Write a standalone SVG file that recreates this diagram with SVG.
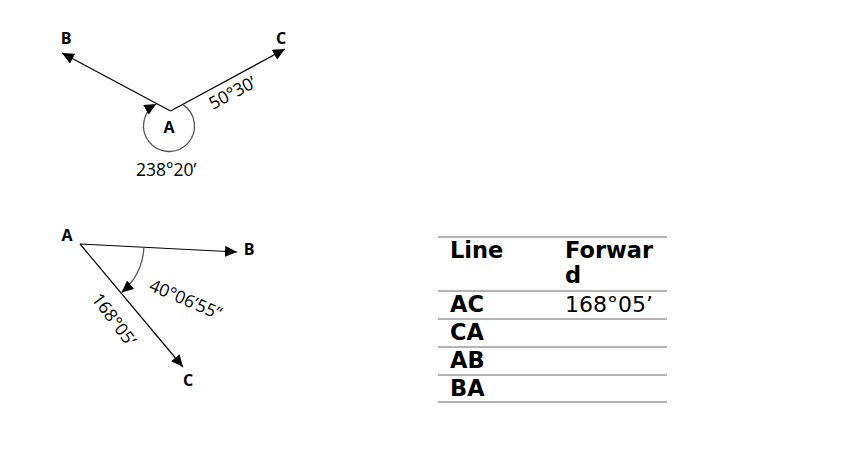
<svg xmlns="http://www.w3.org/2000/svg" width="843" height="456" viewBox="0 0 843 456">
<style>
.ln{stroke:#000;stroke-width:1.2;fill:none}
.arc{stroke:#555;stroke-width:1.3;fill:none}
.lbl{font-family:"Open Sans","Noto Sans",sans-serif;font-weight:bold;font-size:16px;fill:#000;text-anchor:middle}
.ang{font-family:"Open Sans","Noto Sans",sans-serif;font-size:17.5px;fill:#000}
.th{font-family:"DejaVu Sans",sans-serif;font-weight:bold;font-size:22.5px;fill:#000}
.td{font-family:"DejaVu Sans",sans-serif;font-size:22px;fill:#000}
.rule{stroke:#9a9a9a;stroke-width:1.5}
</style>
<defs>
<marker id="ah" markerUnits="userSpaceOnUse" markerWidth="13" markerHeight="11" refX="12" refY="5.5" orient="auto">
<path d="M0,0 L12,5.5 L0,11 Z" fill="#000"/>
</marker>
</defs>
<rect width="843" height="456" fill="#fff"/>
<g id="connectors">
<line class="ln" x1="170.5" y1="111" x2="62" y2="53" marker-end="url(#ah)"/>
<line class="ln" x1="170.5" y1="111" x2="285" y2="49" marker-end="url(#ah)"/>
<path class="arc" d="M183.3,104.9 A25.5,25.5 0 1 1 156.3,103.9" marker-end="url(#ah)"/>
<line class="ln" x1="80" y1="244" x2="237" y2="252" marker-end="url(#ah)"/>
<line class="ln" x1="80" y1="244" x2="183" y2="367" marker-end="url(#ah)"/>
<path class="arc" d="M143.9,247.3 A64,64 0 0 1 121.5,292.5" marker-end="url(#ah)"/>
</g>
<g id="node-top-B"><text class="lbl" x="66" y="44">B</text></g>
<g id="node-top-C"><text class="lbl" x="281" y="44">C</text></g>
<g id="node-top-A"><text class="lbl" x="169" y="133">A</text></g>
<g id="label-50-30"><text class="ang" transform="translate(213,110) rotate(-28)">50°30’</text></g>
<g id="label-238-20"><text class="ang" x="136" y="176">238°20’</text></g>
<g id="node-bot-A"><text class="lbl" x="67" y="241">A</text></g>
<g id="node-bot-B"><text class="lbl" x="249" y="255">B</text></g>
<g id="node-bot-C"><text class="lbl" x="188" y="386">C</text></g>
<g id="label-40"><text class="ang" transform="translate(148,290) rotate(23)">40°06’55”</text></g>
<g id="label-168"><text class="ang" transform="translate(91,299) rotate(53)">168°05’</text></g>
<g id="table">
<line class="rule" x1="438" y1="237" x2="667" y2="237"/>
<line class="rule" x1="438" y1="291" x2="667" y2="291"/>
<line class="rule" x1="438" y1="319" x2="667" y2="319"/>
<line class="rule" x1="438" y1="347" x2="667" y2="347"/>
<line class="rule" x1="438" y1="375" x2="667" y2="375"/>
<line class="rule" x1="438" y1="402" x2="667" y2="402"/>
<text class="th" x="450" y="258">Line</text>
<text class="th" x="565" y="258">Forwar</text>
<text class="th" x="565" y="283">d</text>
<text class="th" x="450" y="312">AC</text>
<text class="td" x="565" y="312">168°05’</text>
<text class="th" x="450" y="340">CA</text>
<text class="th" x="450" y="368">AB</text>
<text class="th" x="450" y="396">BA</text>
</g>
</svg>
